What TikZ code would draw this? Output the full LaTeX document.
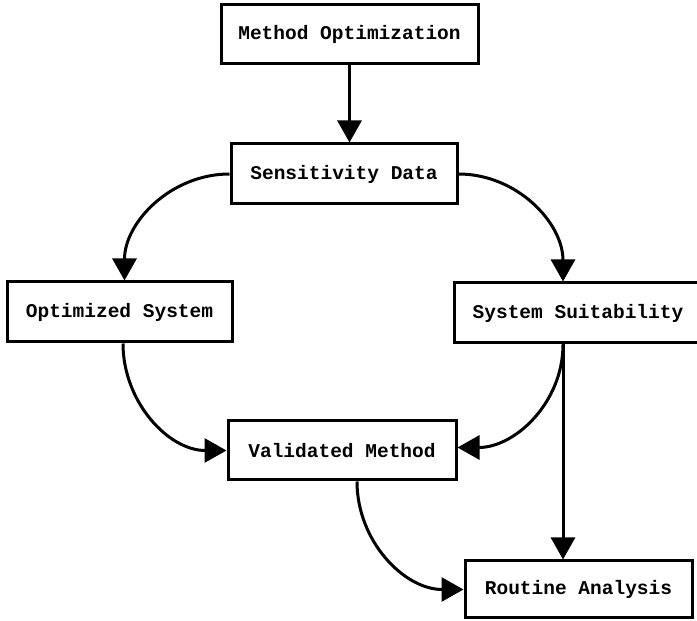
\documentclass[tikz,border=0pt]{standalone}
\usepackage{fontspec}
\setmonofont{Liberation Mono}
\usetikzlibrary{arrows.meta,calc}
\begin{document}
\begin{tikzpicture}[x=1pt,y=1pt,
  box/.style={draw, line width=3pt, inner sep=0pt, minimum height=59pt,
    font=\ttfamily\bfseries\fontsize{19.5}{22}\selectfont},
  conn/.style={line width=3pt, -{Triangle[length=22pt,width=24pt]}}]
\useasboundingbox (0,0) rectangle (697,621);
\node[box, minimum width=257pt] (mo) at (349.5,586.5) {Method Optimization};
\node[box, minimum width=226pt, minimum height=60pt] (sd) at (344,447) {Sensitivity Data};
\node[box, minimum width=225pt, minimum height=60pt] (os) at (119.5,309) {Optimized System};
\node[box, minimum width=248pt, minimum height=60pt] (ss) at (578,308) {System Suitability};
\node[box, minimum width=228pt] (vm) at (342,170.5) {Validated Method};
\node[box, minimum width=227pt, minimum height=57pt] (ra) at (578.5,31.5) {Routine Analysis};
\draw[conn] (mo.south) -- (mo.south |- sd.north);
\draw[conn] (sd.west) to[out=180,in=90] ([xshift=5pt]os.north);
\draw[conn] (sd.east) to[out=0,in=90] ([xshift=-15pt]ss.north);
\draw[conn] ([xshift=3.5pt]os.south) to[out=-90,in=180] (vm.west);
\draw[conn] ([xshift=-15pt]ss.south) to[out=-90,in=0] ([yshift=3pt]vm.east);
\draw[conn] ([xshift=-15pt]ss.south) -- ([xshift=-15.5pt]ra.north);
\draw[conn] ([xshift=15pt]vm.south) to[out=-90,in=180] (ra.west);
\end{tikzpicture}
\end{document}
